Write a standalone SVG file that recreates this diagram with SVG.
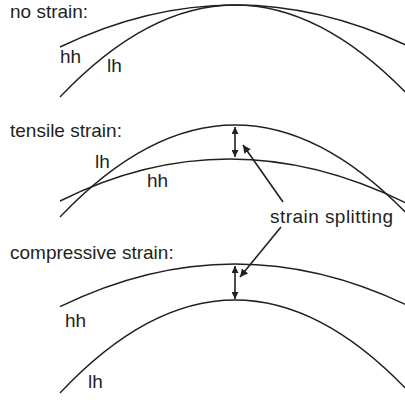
<svg xmlns="http://www.w3.org/2000/svg" width="405" height="400" viewBox="0 0 405 400">
  <defs>
    <marker id="head" viewBox="0 0 10 10" refX="10" refY="5" markerWidth="7" markerHeight="7" markerUnits="userSpaceOnUse" orient="auto-start-reverse">
      <path d="M0,0 L10,5 L0,10 Z" fill="#231f20"/>
    </marker>
    <marker id="tip" viewBox="0 0 10 10" refX="10" refY="5" markerWidth="8" markerHeight="8" markerUnits="userSpaceOnUse" orient="auto">
      <path d="M0,0 L10,5 L0,10 Z" fill="#231f20"/>
    </marker>
  </defs>
  <style>
    .band { fill: none; stroke: #231f20; stroke-width: 1.4; }
    .split { stroke: #231f20; stroke-width: 1.6; fill: none; }
    .lbl { font-family: "Liberation Sans", Arial, sans-serif; font-size: 19px; fill: #231f20; }
  </style>

  <!-- panel 1: degenerate bands -->
  <g id="no-strain">
    <text class="lbl" x="10" y="17.5">no strain:</text>
    <path class="band" d="M60,47 Q235,-37 410,47"/>
    <path class="band" d="M60,97 Q235,-87 410,97"/>
    <text class="lbl" x="60" y="63">hh</text>
    <text class="lbl" x="107" y="72">lh</text>
  </g>

  <!-- panel 2: tensile strain, lh above hh -->
  <g id="tensile-strain">
    <text class="lbl" x="10" y="137">tensile strain:</text>
    <path class="band" d="M60,217 Q235,33 410,217"/>
    <path class="band" d="M60,201 Q232,115 410,205"/>
    <text class="lbl" x="95" y="168">lh</text>
    <text class="lbl" x="147" y="187">hh</text>
  </g>

  <!-- panel 3: compressive strain, hh above lh -->
  <g id="compressive-strain">
    <text class="lbl" x="10" y="259">compressive strain:</text>
    <path class="band" d="M60,306.7 Q235,221.3 410,306.7"/>
    <path class="band" d="M60,393 Q235,207 410,393"/>
    <text class="lbl" x="65" y="327">hh</text>
    <text class="lbl" x="88" y="388">lh</text>
  </g>

  <g id="splitting-label">
    <text class="lbl" x="270" y="223" textLength="123" lengthAdjust="spacing">strain splitting</text>
  </g>

  <!-- splitting gaps and pointers -->
  <g id="connectors">
    <line class="split" x1="235" y1="127" x2="235" y2="157" marker-start="url(#head)" marker-end="url(#head)"/>
    <line class="split" x1="235" y1="266" x2="235" y2="299" marker-start="url(#head)" marker-end="url(#head)"/>
    <line class="split" x1="283" y1="202" x2="243" y2="145" marker-end="url(#tip)"/>
    <line class="split" x1="281" y1="227" x2="240" y2="277" marker-end="url(#tip)"/>
  </g>
</svg>
